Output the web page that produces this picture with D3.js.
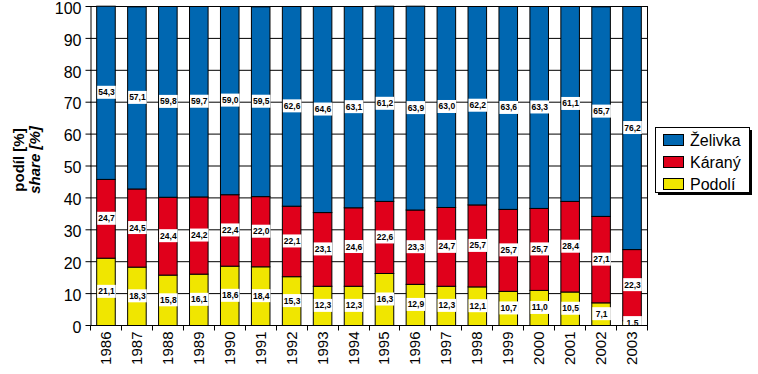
<!DOCTYPE html>
<html><head><meta charset="utf-8">
<script src="https://cdn.jsdelivr.net/npm/d3@7"></script>
<style>
body{margin:0;background:#fff;}
svg text{font-family:"Liberation Sans",Arial,sans-serif;}
</style></head><body>
<svg id="c" width="758" height="374"></svg>
<script>
const years = ["1986","1987","1988","1989","1990","1991","1992","1993","1994","1995","1996","1997","1998","1999","2000","2001","2002","2003"];
const podoli = [21.1,18.3,15.8,16.1,18.6,18.4,15.3,12.3,12.3,16.3,12.9,12.3,12.1,10.7,11.0,10.5,7.1,1.5];
const karany = [24.7,24.5,24.4,24.2,22.4,22.0,22.1,23.1,24.6,22.6,23.3,24.7,25.7,25.7,25.7,28.4,27.1,22.3];
const zelivka = [54.3,57.1,59.8,59.7,59.0,59.5,62.6,64.6,63.1,61.2,63.9,63.0,62.2,63.6,63.3,61.1,65.7,76.2];
const seriesNames = ["Podolí","Kárany","Želivka"];
const legendNames = ["Želivka","Káraný","Podolí"];
const yTicks = [0,10,20,30,40,50,60,70,80,90,100];
const colors = {"Podolí":"#f0e600","Kárany":"#e0001b","Želivka":"#0067b1"};

const svg = d3.select("#c");
const L=90, R=647, T=6, B=325;
const x = d3.scaleBand().domain(years).range([L,R]).paddingInner(0.4).paddingOuter(0.2);
const y = d3.scaleLinear().domain([0,100]).range([B,T]);

const rows = years.map((yr,i)=>({year:yr,"Podolí":podoli[i],"Kárany":karany[i],"Želivka":zelivka[i]}));
const stack = d3.stack().keys(seriesNames)(rows);

// gridlines
svg.append("g").selectAll("line").data(yTicks).join("line")
  .attr("x1",L).attr("x2",R).attr("y1",d=>y(d)+0.5).attr("y2",d=>y(d)+0.5)
  .attr("stroke","#000").attr("stroke-width",1);
// right border
svg.append("line").attr("x1",R+0.5).attr("x2",R+0.5).attr("y1",T).attr("y2",B).attr("stroke","#000");

// bars
const g = svg.append("g");
stack.forEach(s=>{
  g.append("g").selectAll("rect").data(s).join("rect")
    .attr("x",d=>x(d.data.year)+0.5)
    .attr("y",d=>y(d[1])+0.5)
    .attr("width",x.bandwidth())
    .attr("height",d=>y(d[0])-y(d[1]))
    .attr("fill",colors[s.key]).attr("stroke","#000").attr("stroke-width",1);
});

// labels
svg.append("defs").append("clipPath").attr("id","pc").append("rect")
  .attr("x",L).attr("y",T).attr("width",R-L).attr("height",B-T+0.5);
const lg = svg.append("g").attr("clip-path","url(#pc)");
stack.forEach(s=>{
  s.forEach(d=>{
    const v = d[1]-d[0];
    const cy = y((d[0]+d[1])/2);
    const bx = x(d.data.year)+1;
    lg.append("rect").attr("x",bx).attr("y",cy-6.5).attr("width",x.bandwidth()).attr("height",13).attr("fill","#fff");
    lg.append("text").attr("x",bx+x.bandwidth()/2).attr("y",cy+3)
      .attr("text-anchor","middle").attr("font-size","8.5px").attr("font-weight","bold")
      .text(d3.format(".1f")(v).replace(".",","));
  });
});

// y axis
const ya = svg.append("g").attr("transform",`translate(${L+0.5},0)`)
  .call(d3.axisLeft(y).tickValues(yTicks).tickSize(5).tickSizeOuter(0).tickPadding(4));
ya.selectAll("text").attr("font-size","16px").attr("fill","#000").attr("dy","0.45em")
  .attr("font-family","Liberation Sans, Arial, sans-serif");
ya.select(".domain").attr("stroke","#000").attr("stroke-width",1);
ya.selectAll(".tick line").attr("stroke","#000");

// x axis
const xa = svg.append("g").attr("transform",`translate(0,${B+0.5})`);
xa.append("line").attr("x1",L).attr("x2",R+1).attr("y1",0).attr("y2",0).attr("stroke","#000");
const bounds = years.map(yr=>x(yr)-x.step()*x.paddingInner()/2).concat([R]);
xa.selectAll("line.t").data(bounds).join("line").attr("class","t")
  .attr("x1",d=>Math.round(d)+0.5).attr("x2",d=>Math.round(d)+0.5).attr("y1",0).attr("y2",5).attr("stroke","#000");
xa.selectAll("text").data(years).join("text")
  .attr("transform",d=>`translate(${x(d)+x.bandwidth()/2+5.5},6) rotate(-90)`)
  .attr("text-anchor","end").attr("font-size","15px").text(d=>d);

// axis title
const tt = svg.append("text").attr("transform","translate(24,160) rotate(-90)")
  .attr("text-anchor","middle").attr("font-size","15px").attr("font-weight","bold");
tt.append("tspan").attr("x",0).attr("dy",0).text("podíl [%]");
tt.append("tspan").attr("x",0).attr("dy","16").attr("font-style","italic").text("share [%]");

// legend
const lx=655, ly=127, lw=94, lh=65;
svg.append("rect").attr("x",lx+3).attr("y",ly+3).attr("width",lw).attr("height",lh).attr("fill","#000");
svg.append("rect").attr("x",lx+0.5).attr("y",ly+0.5).attr("width",lw).attr("height",lh).attr("fill","#fff").attr("stroke","#000");
const li = svg.append("g").selectAll("g").data(legendNames).join("g")
  .attr("transform",(d,i)=>`translate(${lx+8},${ly+7+i*22})`);
const legKey = {"Želivka":"Želivka","Káraný":"Kárany","Podolí":"Podolí"};
li.append("rect").attr("x",0.5).attr("y",0.5).attr("width",20).attr("height",11)
  .attr("fill",d=>colors[legKey[d]]).attr("stroke","#000");
li.append("text").attr("x",27).attr("y",11.5).attr("font-size","16px").text(d=>d);
</script></body></html>
